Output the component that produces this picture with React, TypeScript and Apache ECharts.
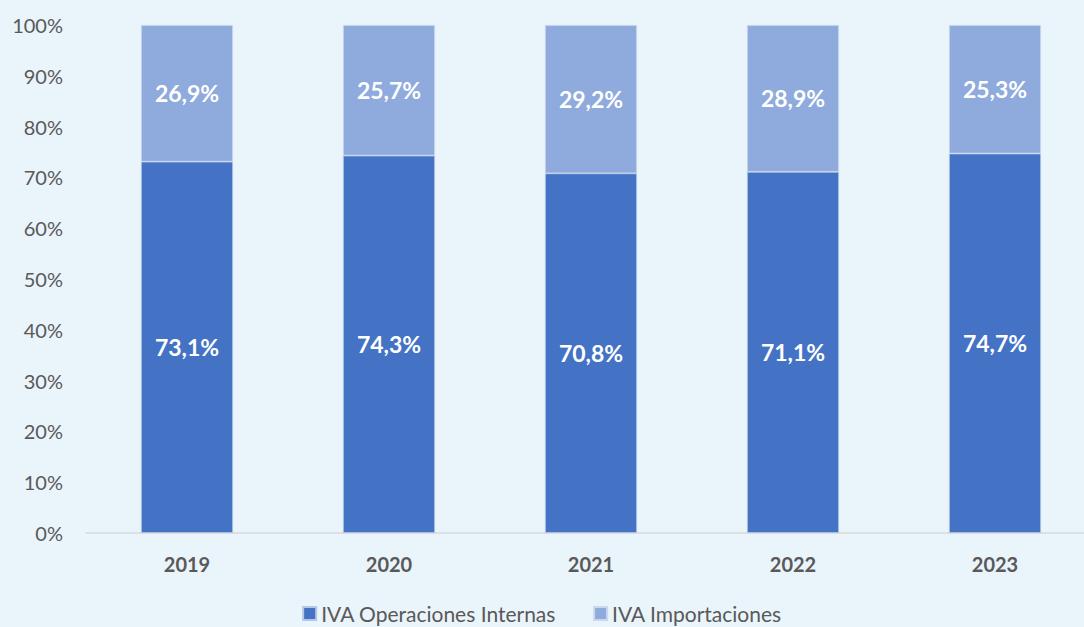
import React, { useEffect, useRef } from "react";
import * as echarts from "echarts";

const years = ["2019", "2020", "2021", "2022", "2023"];
const internas = [73.1, 74.3, 70.8, 71.1, 74.7];
const importaciones = [26.9, 25.7, 29.2, 28.9, 25.3];
const yTicks = [0, 10, 20, 30, 40, 50, 60, 70, 80, 90, 100];

const FONT = "Lato, 'Open Sans', sans-serif";

export default function App() {
  const ref = useRef<HTMLDivElement>(null);
  useEffect(() => {
    document.body.style.margin = "0";
    const chart = echarts.init(ref.current!, null, { renderer: "svg" });
    const fmt = (v: number) => v.toFixed(1).replace(".", ",") + "%";
    const labelCfg = {
      show: true,
      position: "inside",
      color: "#ffffff",
      fontSize: 23,
      fontWeight: "bold",
      fontFamily: FONT,
      formatter: (p: any) => fmt(p.value),
    };
    chart.setOption({
      animation: false,
      backgroundColor: "#EAF4FB",
      grid: {
        left: 86,
        top: 25,
        bottom: 94,
        right: -12,
        containLabel: false,
        outerBoundsMode: "none",
      },
      legend: {
        bottom: -2,
        left: "center",
        itemWidth: 13,
        itemHeight: 13,
        itemGap: 37,
        icon: "rect",
        textStyle: { fontSize: 21, color: "#595959", fontFamily: FONT },
        data: ["IVA Operaciones Internas", "IVA Importaciones"],
      },
      xAxis: {
        type: "category",
        data: years,
        axisLine: { lineStyle: { color: "#D9D9D9", width: 1.5 } },
        axisTick: { show: false },
        axisLabel: {
          color: "#595959",
          fontSize: 20,
          fontWeight: "bold",
          fontFamily: FONT,
          margin: 21,
        },
      },
      yAxis: {
        type: "value",
        min: 0,
        max: 100,
        interval: 10,
        splitLine: { show: false },
        axisLine: { show: false },
        axisTick: { show: false },
        axisLabel: {
          color: "#595959",
          fontSize: 20,
          fontFamily: FONT,
          margin: 23,
          formatter: (v: number) => (yTicks.includes(v) ? v + "%" : ""),
        },
      },
      series: [
        {
          name: "IVA Operaciones Internas",
          type: "bar",
          stack: "total",
          barWidth: 92,
          data: internas,
          itemStyle: { color: "#4472C4", borderColor: "#B4C7E7", borderWidth: 0.8 },
          label: labelCfg,
        },
        {
          name: "IVA Importaciones",
          type: "bar",
          stack: "total",
          barWidth: 92,
          data: importaciones,
          itemStyle: { color: "#8FAADC", borderColor: "#C9D7EF", borderWidth: 0.8 },
          label: labelCfg,
        },
      ],
    });
    return () => chart.dispose();
  }, []);
  return <div ref={ref} style={{ width: 1084, height: 627 }} />;
}
